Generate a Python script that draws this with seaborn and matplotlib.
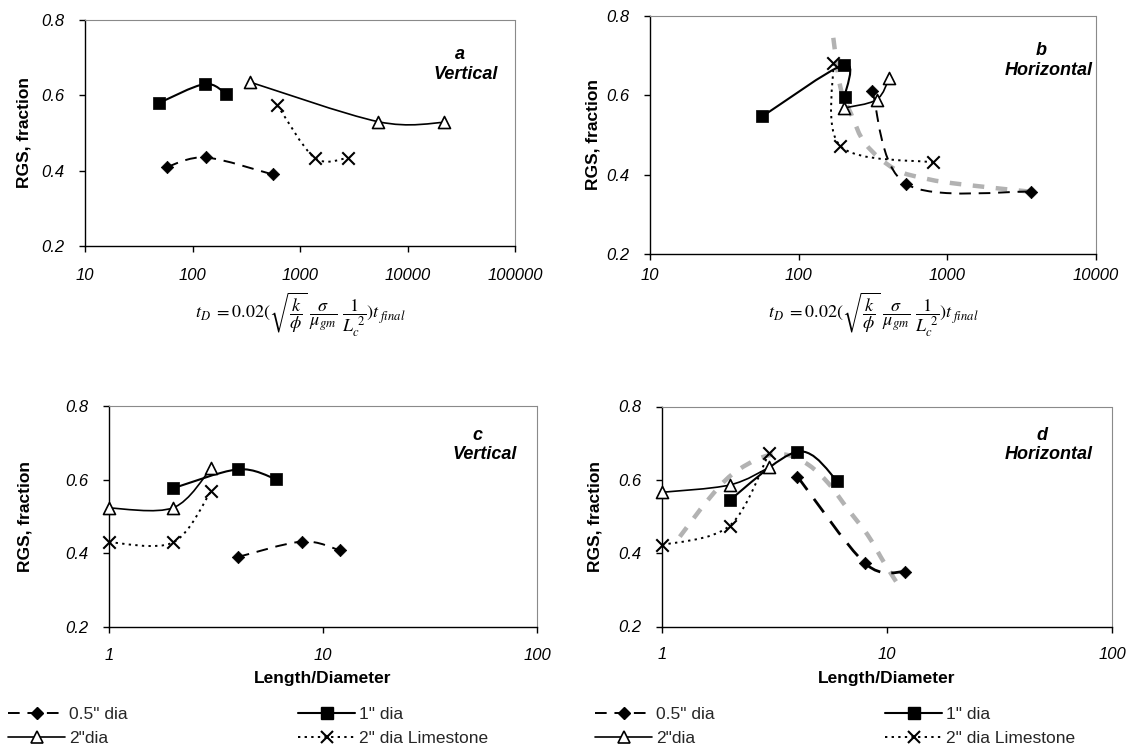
import numpy as np
import matplotlib
matplotlib.use('Agg')
import matplotlib.pyplot as plt
from matplotlib.path import Path
from matplotlib.patches import PathPatch
from matplotlib.lines import Line2D
from matplotlib.ticker import NullLocator
import seaborn as sns

sns.set_theme(style='white')
plt.rcParams['font.family'] = ['Liberation Sans', 'DejaVu Sans']
plt.rcParams['mathtext.fontset'] = 'stix'

# --- data ---
# panel a: vertical, vs dimensionless time t_D
a_half_x = [58, 133, 556]
a_half_y = [0.41, 0.435, 0.39]
a_one_x = [49, 130, 207]
a_one_y = [0.58, 0.63, 0.603]
a_two_x = [344, 5340, 21980]
a_two_y = [0.635, 0.53, 0.528]
a_lime_x = [615, 1370, 2800]
a_lime_y = [0.574, 0.434, 0.434]

# panel b: horizontal, vs t_D
b_half_x = [313, 525, 3640]
b_half_y = [0.61, 0.377, 0.357]
b_one_x = [57, 202, 204]
b_one_y = [0.547, 0.677, 0.597]
b_two_x = [202, 334, 407]
b_two_y = [0.568, 0.589, 0.643]
b_lime_x = [171, 191, 798]
b_lime_y = [0.681, 0.472, 0.431]
b_gray_x = [171, 191, 226, 282, 443, 735, 1290, 3640]
b_gray_y = [0.745, 0.62, 0.552, 0.477, 0.414, 0.389, 0.375, 0.357]

# panel c: vertical, vs L/D
c_half_x = [4, 8, 12]
c_half_y = [0.39, 0.432, 0.408]
c_one_x = [2, 4, 6]
c_one_y = [0.577, 0.628, 0.602]
c_two_x = [1, 2, 3]
c_two_y = [0.523, 0.524, 0.631]
c_lime_x = [1, 2, 3]
c_lime_y = [0.43, 0.43, 0.569]

# panel d: horizontal, vs L/D
d_half_x = [4, 8, 12]
d_half_y = [0.609, 0.372, 0.349]
d_one_x = [2, 4, 6]
d_one_y = [0.545, 0.677, 0.598]
d_two_x = [1, 2, 3]
d_two_y = [0.566, 0.586, 0.634]
d_lime_x = [1, 2, 3]
d_lime_y = [0.422, 0.475, 0.674]
d_gray_x = [1.2, 1.6, 2.05, 2.8, 3.6, 4.5, 5.5, 6.7, 8.2, 9.8, 11.6]
d_gray_y = [0.445, 0.545, 0.615, 0.662, 0.668, 0.64, 0.59, 0.52, 0.45, 0.37, 0.30]

series_labels = ['0.5" dia', '1" dia', '2"dia', '2" dia Limestone']
y_ticks = [0.2, 0.4, 0.6, 0.8]
td_ticks_a = [10, 100, 1000, 10000, 100000]
td_ticks_b = [10, 100, 1000, 10000]
ld_ticks = [1, 10, 100]

W, H = 1132, 755
fig = plt.figure(figsize=(W / 100, H / 100), dpi=100)

line_style = {
    'half': dict(linestyle=(0, (6, 4)), linewidth=1.4, edgecolor='black'),
    'one': dict(linestyle='-', linewidth=1.5, edgecolor='black'),
    'two': dict(linestyle='-', linewidth=1.2, edgecolor='black'),
    'lime': dict(linestyle=(0, (1.2, 2.2)), linewidth=1.4, edgecolor='black'),
    'gray': dict(linestyle=(0, (2.6, 2.6)), linewidth=3.2, edgecolor='#b2b2b2'),
}
marker_style = {
    'half': dict(marker='D', s=40, color='black', edgecolor='black', linewidth=0.5),
    'one': dict(marker='s', s=66, color='black', edgecolor='black', linewidth=0.5),
    'two': dict(marker='^', s=75, color='white', edgecolor='black', linewidth=1.2),
    'lime': dict(marker='x', s=80, color='black', linewidth=1.5),
}


def smooth_line(ax, xs, ys, kind, lw=None):
    # excel-like smoothed line: bezier through the points, built in screen space
    pts = ax.transData.transform(np.column_stack([xs, ys]))
    n = len(pts)
    verts = [pts[0]]
    codes = [Path.MOVETO]
    for i in range(n - 1):
        p0 = pts[max(i - 1, 0)]
        p1 = pts[i]
        p2 = pts[i + 1]
        p3 = pts[min(i + 2, n - 1)]
        verts += [p1 + (p2 - p0) / 6, p2 - (p3 - p1) / 6, p2]
        codes += [Path.CURVE4] * 3
    verts = ax.transData.inverted().transform(np.array(verts))
    style = dict(line_style[kind])
    if lw is not None:
        style['linewidth'] = lw
    ax.add_patch(PathPatch(Path(verts, codes), fill=False, transform=ax.transData,
                           zorder=2, **style))


def series(ax, xs, ys, kind, lw=None):
    smooth_line(ax, xs, ys, kind, lw)
    sns.scatterplot(x=xs, y=ys, ax=ax, zorder=4, legend=False, clip_on=False,
                    **marker_style[kind])


def setup(rect, xlim, xticks, xpad, label_x):
    ax = fig.add_axes(rect)
    ax.set_xscale('log')
    ax.set_xlim(xlim)
    ax.set_ylim(0.2, 0.8)
    ax.set_xticks(xticks)
    ax.set_xticklabels([str(t) for t in xticks], fontstyle='italic')
    ax.xaxis.set_minor_locator(NullLocator())
    ax.set_yticks(y_ticks)
    ax.set_yticklabels([f'{t:.1f}' for t in y_ticks], fontstyle='italic')
    ax.tick_params(axis='both', direction='out', length=4, width=1, color='black',
                   labelsize=12, labelcolor='black', left=True, bottom=True)
    ax.tick_params(axis='x', pad=xpad)
    ax.tick_params(axis='y', pad=11)
    for s in ['left', 'bottom']:
        ax.spines[s].set_color('black')
        ax.spines[s].set_linewidth(1.0)
    for s in ['top', 'right']:
        ax.spines[s].set_color('#8a8a8a')
        ax.spines[s].set_linewidth(0.8)
        ax.spines[s].set_linestyle((0, (1, 1)))
    ax.set_ylabel('RGS, fraction', fontsize=12.5, fontweight='bold', color='black', va='center')
    ax.yaxis.set_label_coords(label_x, 0.5)
    ax.grid(False)
    return ax


def corner(ax, letter, word, x, y):
    kw = dict(transform=ax.transAxes, ha='center', va='center', fontsize=13,
              fontweight='bold', fontstyle='italic', color='black')
    ax.text(x - 0.015, y, letter, **kw)
    ax.text(x, y - 0.088, word, **kw)


# panel a
ax_a = setup([85 / W, 1 - 246 / H, 430 / W, 226 / H], (10, 100000), td_ticks_a, 12, -0.142)
series(ax_a, a_half_x, a_half_y, 'half')
series(ax_a, a_one_x, a_one_y, 'one')
series(ax_a, a_two_x, a_two_y, 'two')
series(ax_a, a_lime_x, a_lime_y, 'lime')
corner(ax_a, 'a', 'Vertical', 0.886, 0.847)

# panel b
ax_b = setup([650 / W, 1 - 254 / H, 446 / W, 238 / H], (10, 10000), td_ticks_b, 6, -0.128)
smooth_line(ax_b, b_gray_x, b_gray_y, 'gray')
series(ax_b, b_half_x, b_half_y, 'half')
series(ax_b, b_lime_x, b_lime_y, 'lime')
series(ax_b, b_two_x, b_two_y, 'two')
series(ax_b, b_one_x, b_one_y, 'one')
corner(ax_b, 'b', 'Horizontal', 0.893, 0.857)

# panel c
ax_c = setup([109 / W, 1 - 627 / H, 428 / W, 221 / H], (1, 100), ld_ticks, 11, -0.196)
series(ax_c, c_half_x, c_half_y, 'half')
series(ax_c, c_lime_x, c_lime_y, 'lime')
series(ax_c, c_two_x, c_two_y, 'two')
series(ax_c, c_one_x, c_one_y, 'one')
ax_c.set_xlabel('Length/Diameter', fontsize=12.5, fontweight='bold', color='black', labelpad=6)
corner(ax_c, 'c', 'Vertical', 0.877, 0.868)

# panel d
ax_d = setup([662 / W, 1 - 626.5 / H, 450 / W, 220 / H], (1, 100), ld_ticks, 11, -0.149)
smooth_line(ax_d, d_gray_x, d_gray_y, 'gray')
series(ax_d, d_half_x, d_half_y, 'half', lw=2.0)
series(ax_d, d_lime_x, d_lime_y, 'lime')
series(ax_d, d_two_x, d_two_y, 'two')
series(ax_d, d_one_x, d_one_y, 'one')
ax_d.set_xlabel('Length/Diameter', fontsize=12.5, fontweight='bold', color='black', labelpad=6)
corner(ax_d, 'd', 'Horizontal', 0.859, 0.87)

# t_D definition under the top panels
formula = (r'$t_{D}\ = 0.02(\sqrt{\dfrac{k}{\phi}}\ \dfrac{\sigma}{\mu_{gm}}\ '
           r'\dfrac{1}{L_c^{\ 2}})t_{\ final}$')
fig.text(300 / W, 1 - 315 / H, formula, ha='center', va='center', fontsize=13, color='black')
fig.text(873 / W, 1 - 315 / H, formula, ha='center', va='center', fontsize=13, color='black')


# legends under the bottom panels
def handle(kind):
    ls = line_style[kind]
    ms = marker_style[kind]
    return Line2D([], [], color='black', linestyle=ls['linestyle'], linewidth=ls['linewidth'],
                  marker=ms['marker'], markersize=np.sqrt(ms['s']), markerfacecolor=ms['color'],
                  markeredgecolor='black', markeredgewidth=max(ms['linewidth'], 1.0))


kinds = ['half', 'one', 'two', 'lime']
for x0 in [8, 595]:
    spots = [(x0, 714), (x0 + 290, 714), (x0, 738), (x0 + 290, 738)]
    for kind, lab, (px, py) in zip(kinds, series_labels, spots):
        fig.legend(handles=[handle(kind)], labels=[lab], loc='center left',
                   bbox_to_anchor=(px / W, 1 - py / H), frameon=False, fontsize=12.5,
                   handlelength=3.3, handletextpad=0.2, borderpad=0, borderaxespad=0,
                   numpoints=1)

fig.savefig('out.png', dpi=100)
